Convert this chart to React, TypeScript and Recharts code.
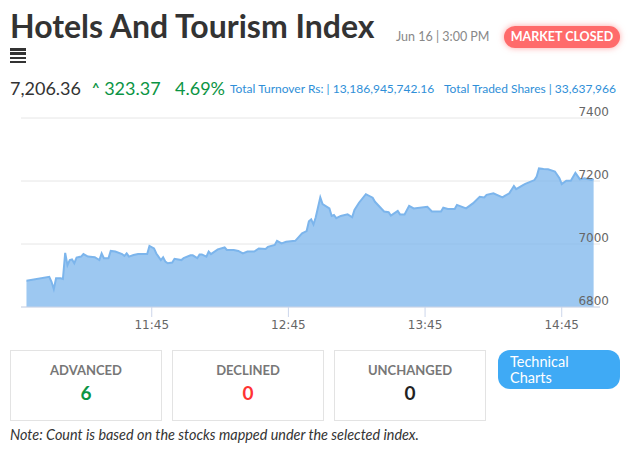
import { AreaChart, Area, XAxis, YAxis, CartesianGrid } from 'recharts';

const times = [
  '10:50', '11:00', '11:01', '11:02', '11:03', '11:05', '11:06', '11:07', '11:08', '11:09',
  '11:10', '11:11', '11:12', '11:14', '11:15', '11:17', '11:20', '11:22', '11:23', '11:24',
  '11:26', '11:27', '11:29', '11:32', '11:33', '11:34', '11:35', '11:37', '11:39', '11:43',
  '11:44', '11:46', '11:47', '11:49', '11:50', '11:51', '11:52', '11:54', '11:55', '11:58',
  '11:59', '12:02', '12:03', '12:05', '12:06', '12:07', '12:09', '12:10', '12:11', '12:14',
  '12:17', '12:18', '12:21', '12:23', '12:25', '12:27', '12:30', '12:32', '12:35', '12:36',
  '12:39', '12:40', '12:42', '12:44', '12:48', '12:49', '12:51', '12:53', '12:54', '12:55',
  '12:56', '12:57', '12:59', '13:00', '13:03', '13:04', '13:05', '13:06', '13:08', '13:11',
  '13:13', '13:14', '13:16', '13:19', '13:22', '13:23', '13:27', '13:29', '13:30', '13:33',
  '13:34', '13:36', '13:38', '13:40', '13:46', '13:48', '13:52', '13:53', '13:55', '13:58',
  '13:59', '14:03', '14:06', '14:09', '14:11', '14:12', '14:15', '14:19', '14:20', '14:22',
  '14:24', '14:25', '14:28', '14:29', '14:33', '14:34', '14:35', '14:37', '14:39', '14:42',
  '14:44', '14:45', '14:47', '14:49', '14:51', '14:53', '14:55', '14:58', '14:59',
];

const indexValues = [
  6883, 6896, 6880, 6857, 6891, 6891, 6889, 6972, 6933, 6949,
  6951, 6939, 6957, 6960, 6968, 6960, 6958, 6949, 6970, 6955,
  6955, 6978, 6976, 6968, 6962, 6970, 6960, 6965, 6968, 6968,
  6994, 6986, 6970, 6949, 6958, 6944, 6939, 6941, 6953, 6949,
  6955, 6964, 6964, 6955, 6967, 6967, 6960, 6976, 6968, 6983,
  6989, 6981, 6981, 6978, 6970, 6976, 6976, 6986, 6984, 6991,
  6997, 7010, 7002, 7007, 7010, 7018, 7034, 7041, 7072, 7078,
  7062, 7085, 7148, 7127, 7113, 7089, 7092, 7082, 7089, 7094,
  7085, 7108, 7131, 7158, 7147, 7134, 7103, 7101, 7090, 7105,
  7094, 7094, 7121, 7113, 7118, 7103, 7103, 7115, 7111, 7111,
  7124, 7113, 7129, 7150, 7148, 7156, 7161, 7148, 7153, 7161,
  7184, 7174, 7187, 7191, 7203, 7214, 7240, 7238, 7237, 7230,
  7209, 7190, 7201, 7201, 7226, 7205, 7209, 7203, 7206,
];

const xTickLabels = ['11:45', '12:45', '13:45', '14:45'];
const yTicks = [6800, 7000, 7200, 7400];

const toMin = (s: string) => {
  const [h, m] = s.split(':').map(Number);
  return h * 60 + m;
};
const fmtMin = (v: number) => {
  const h = Math.floor(v / 60);
  const m = Math.round(v - h * 60);
  return `${h}:${m < 10 ? '0' + m : m}`;
};

const chartData = times.map((t, i) => ({ t: toMin(t), value: indexValues[i] }));

const stats = [
  { label: 'ADVANCED', count: 6, color: '#0b9444' },
  { label: 'DECLINED', count: 0, color: '#ff3333' },
  { label: 'UNCHANGED', count: 0, color: '#222' },
];

const FONT = 'Lato, "Noto Sans", sans-serif';

const YTick = ({ x, y, payload }: any) => (
  <text x={x + 1} y={y - 2.5} textAnchor="end" fill="#666" fontSize={12} fontFamily="DejaVu Sans">
    {payload.value}
  </text>
);

export default function App() {
  return (
    <div style={{ position: 'absolute', left: 0, top: 0, width: 635, height: 459, background: '#fff', fontFamily: FONT, color: '#333' }}>
      <div style={{ position: 'absolute', left: 10, top: 6, fontSize: 32, fontWeight: 700, color: '#333', whiteSpace: 'nowrap' }}>
        Hotels And Tourism Index
      </div>
      {/* menu icon */}
      <div style={{ position: 'absolute', left: 10, top: 48, width: 16 }}>
        {[0, 1, 2, 3].map(i => (
          <div key={i} style={{ height: 2.5, background: '#333', marginBottom: 1.8 }} />
        ))}
      </div>
      <div style={{ position: 'absolute', left: 396, top: 29, fontSize: 12.5, color: '#888', whiteSpace: 'nowrap' }}>
        Jun 16 | 3:00 PM
      </div>
      <div style={{
        position: 'absolute', left: 504, top: 26, width: 116, height: 22, borderRadius: 11,
        background: '#ff6b6b', color: '#fff', fontSize: 12.5, fontWeight: 700, lineHeight: '22px',
        textAlign: 'center', boxShadow: '0 0 6px rgba(255,107,107,0.6)',
      }}>
        MARKET CLOSED
      </div>

      <div style={{ position: 'absolute', left: 10, top: 77, fontSize: 18, color: '#333', whiteSpace: 'nowrap' }}>7,206.36</div>
      <div style={{ position: 'absolute', left: 92, top: 77, fontSize: 18, color: '#0b9444', whiteSpace: 'nowrap' }}>
        <span style={{ fontSize: 13, fontWeight: 700, position: 'relative', top: -2 }}>^</span> 323.37
      </div>
      <div style={{ position: 'absolute', left: 175, top: 77, fontSize: 18, color: '#0b9444', whiteSpace: 'nowrap' }}>4.69%</div>
      <div style={{ position: 'absolute', left: 230, top: 81, fontSize: 12, color: '#2f8fd8', whiteSpace: 'nowrap' }}>
        Total Turnover Rs: | 13,186,945,742.16
      </div>
      <div style={{ position: 'absolute', left: 444, top: 81, fontSize: 12, color: '#2f8fd8', whiteSpace: 'nowrap' }}>
        Total Traded Shares | 33,637,966
      </div>

      <div style={{ position: 'absolute', left: 0, top: 100 }}>
        <AreaChart width={635} height={240} data={chartData} margin={{ top: 18, right: 0, bottom: 0, left: 21 }}>
          <CartesianGrid vertical={false} stroke="#e6e6e6" />
          <XAxis
            dataKey="t"
            type="number"
            domain={[647.6, 901.8]}
            allowDataOverflow
            ticks={xTickLabels.map(toMin)}
            tickFormatter={fmtMin}
            height={33}
            stroke="#ccd6eb"
            tickSize={10}
            tickMargin={3}
            tick={{ fill: '#666', fontSize: 12, fontFamily: 'DejaVu Sans' }}
          />
          <YAxis
            orientation="right"
            width={35}
            domain={[6800, 7400]}
            ticks={yTicks}
            axisLine={false}
            tickLine={false}
            tick={<YTick />}
          />
          <Area
            type="linear"
            dataKey="value"
            stroke="#7cb5ec"
            strokeWidth={2}
            fill="#7cb5ec"
            fillOpacity={0.75}
            isAnimationActive={false}
          />
        </AreaChart>
      </div>

      {stats.map((s, i) => (
        <div key={s.label} style={{
          position: 'absolute', left: 10 + i * 162, top: 350, width: 150, height: 69,
          border: '1px solid #e3e3e3', textAlign: 'center',
        }}>
          <div style={{ marginTop: 11, fontSize: 13, fontWeight: 700, color: '#777' }}>{s.label}</div>
          <div style={{ marginTop: 3, fontSize: 19, fontWeight: 700, color: s.color }}>{s.count}</div>
        </div>
      ))}
      <div style={{
        position: 'absolute', left: 498, top: 350, width: 122, height: 39, borderRadius: 12,
        background: '#3faaf5', color: '#fff', fontSize: 14.5, lineHeight: '16px', boxSizing: 'border-box',
        padding: '4px 0 0 12px',
      }}>
        Technical<br />Charts
      </div>
      <div style={{ position: 'absolute', left: 10, top: 426, fontSize: 14.4, fontStyle: 'italic', color: '#333', whiteSpace: 'nowrap' }}>
        Note: Count is based on the stocks mapped under the selected index.
      </div>
    </div>
  );
}
